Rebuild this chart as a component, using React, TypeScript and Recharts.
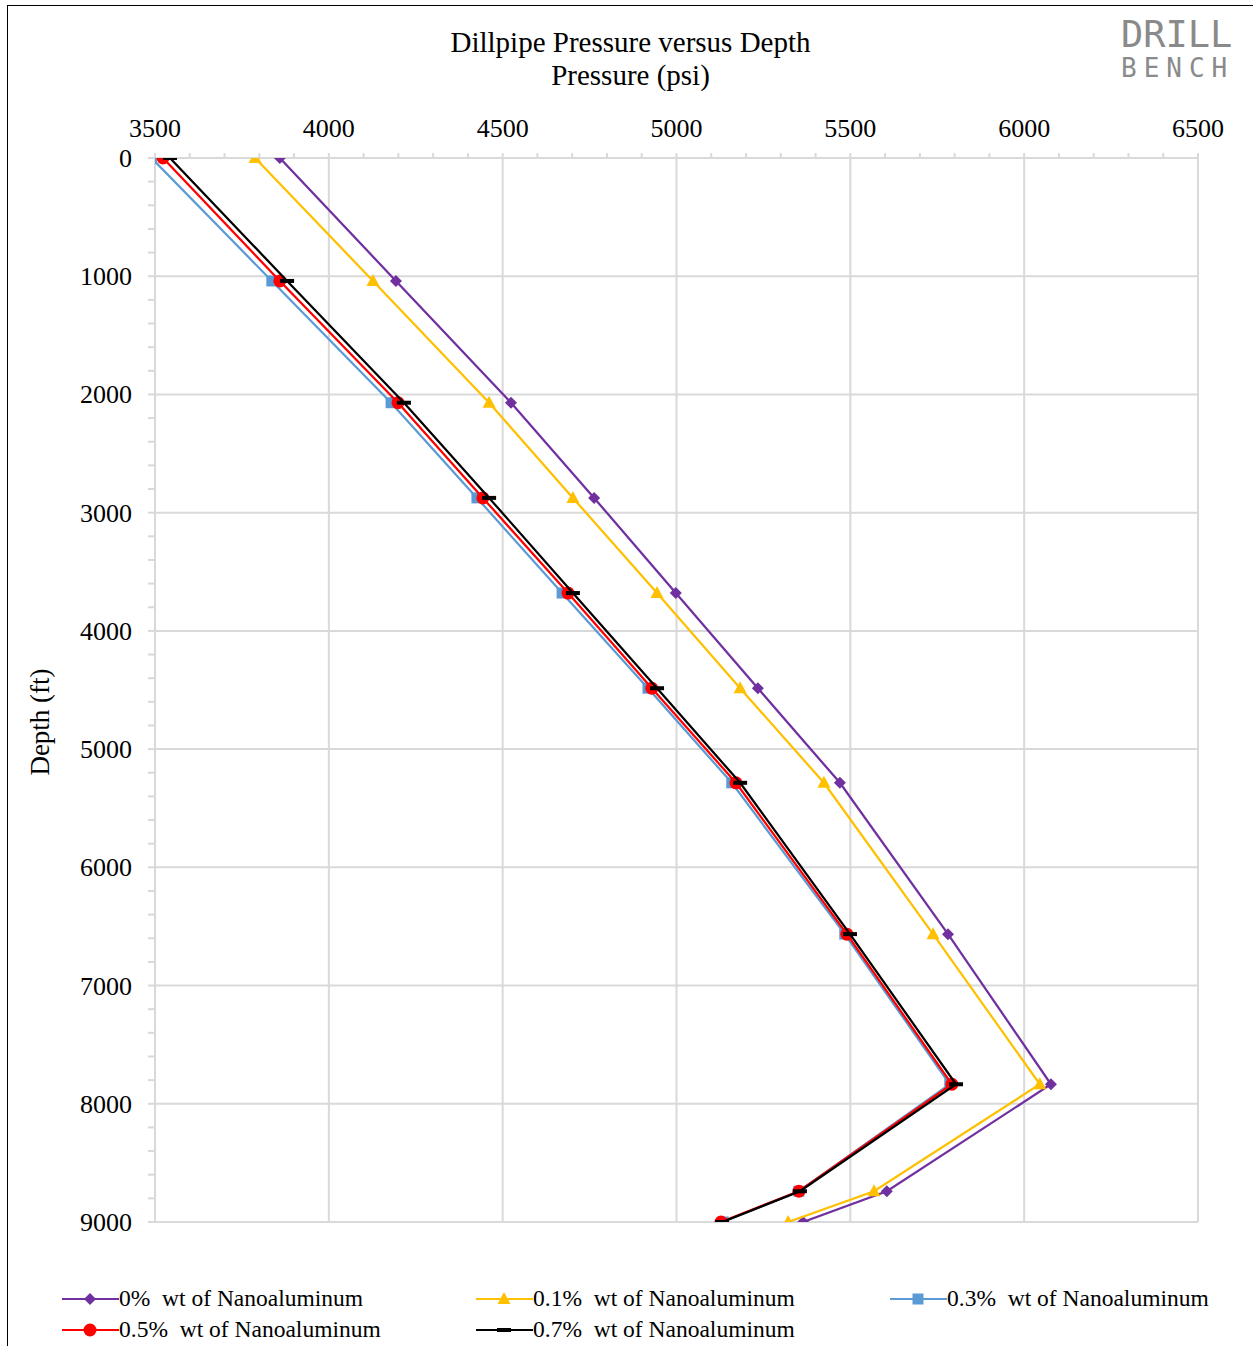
import React from "react";
import {
  CartesianGrid,
  Scatter,
  ScatterChart,
  XAxis,
  YAxis,
} from "recharts";

// depth (ft) for every survey station
const depths = [0, 1040, 2070, 2875, 3680, 4485, 5285, 6565, 7835, 8740, 9000];

// dillpipe pressure (psi) per nanoaluminum loading
const p00 = [3859, 4193, 4524, 4763, 4998, 5234, 5470, 5781, 6077, 5605, 5364];
const p01 = [3788, 4127, 4461, 4702, 4944, 5183, 5424, 5738, 6045, 5568, 5321];
const p03 = [3490, 3836, 4179, 4426, 4671, 4918, 5159, 5484, 5786, 5352, 5134];
const p05 = [3523, 3859, 4199, 4443, 4688, 4929, 5171, 5490, 5792, 5352, 5128];
const p07 = [3543, 3880, 4216, 4461, 4702, 4944, 5183, 5499, 5804, 5355, 5131];

const xTicks = [3500, 4000, 4500, 5000, 5500, 6000, 6500];
const yTicks = [0, 1000, 2000, 3000, 4000, 5000, 6000, 7000, 8000, 9000];

const FONT = "'Liberation Serif', 'Times New Roman', serif";
const GRID = "#d9d9d9";

const minorX: number[] = [];
for (let v = 3500; v <= 6500; v += 100) minorX.push(v);
const minorY: number[] = [];
for (let v = 0; v <= 9000; v += 200) minorY.push(v);

const toPoints = (p: number[]) => p.map((v, i) => ({ p: v, d: depths[i] }));

type Marker = "diamond" | "triangle" | "square" | "circle" | "dash";

function MarkerGlyph({ kind, cx, cy, color }: { kind: Marker; cx: number; cy: number; color: string }) {
  if (cx == null || cy == null || isNaN(cx) || isNaN(cy)) return <g />;
  switch (kind) {
    case "diamond":
      return <polygon points={`${cx},${cy - 6} ${cx + 6},${cy} ${cx},${cy + 6} ${cx - 6},${cy}`} fill={color} />;
    case "triangle":
      return <polygon points={`${cx},${cy - 7} ${cx + 6.5},${cy + 5} ${cx - 6.5},${cy + 5}`} fill={color} />;
    case "square":
      return <rect x={cx - 5.5} y={cy - 5.5} width={11} height={11} fill={color} />;
    case "circle":
      return <circle cx={cx} cy={cy} r={6.5} fill={color} />;
    default:
      return <rect x={cx - 7} y={cy - 2} width={14} height={4} fill={color} />;
  }
}

const series: { name: string; data: number[]; color: string; marker: Marker }[] = [
  { name: "0%  wt of Nanoaluminum", data: p00, color: "#7030a0", marker: "diamond" },
  { name: "0.1%  wt of Nanoaluminum", data: p01, color: "#ffc000", marker: "triangle" },
  { name: "0.3%  wt of Nanoaluminum", data: p03, color: "#5b9bd5", marker: "square" },
  { name: "0.5%  wt of Nanoaluminum", data: p05, color: "#ff0000", marker: "circle" },
  { name: "0.7%  wt of Nanoaluminum", data: p07, color: "#000000", marker: "dash" },
];

const renderXTick = (props: any) => {
  const { x, y, payload } = props;
  if (payload.value % 500 !== 0) return <g />;
  return (
    <text x={x} y={y} textAnchor="middle" style={{ fontFamily: FONT, fontSize: 26 }} fill="#000">
      {payload.value}
    </text>
  );
};

const renderYTick = (props: any) => {
  const { x, y, payload } = props;
  if (payload.value % 1000 !== 0) return <g />;
  return (
    <text x={x} y={y} dy={9} textAnchor="end" style={{ fontFamily: FONT, fontSize: 26 }} fill="#000">
      {payload.value}
    </text>
  );
};

function LegendItem({ s }: { s: (typeof series)[number] }) {
  return (
    <div style={{ display: "flex", alignItems: "center", height: 31 }}>
      <svg width={57} height={20}>
        <line x1={0} y1={10} x2={57} y2={10} stroke={s.color} strokeWidth={2} />
        <MarkerGlyph kind={s.marker} cx={28} cy={10} color={s.color} />
      </svg>
      <span style={{ fontFamily: FONT, fontSize: 23.5, color: "#000", whiteSpace: "pre" }}>{s.name}</span>
    </div>
  );
}

export default function App() {
  return (
    <div style={{ position: "absolute", left: 0, top: 0, width: 1253, height: 1346, overflow: "hidden", background: "#fff" }}>
      <div style={{ position: "absolute", left: 7, top: 5, width: 1300, height: 1400, border: "1px solid #000" }} />
      <div style={{ position: "absolute", left: 0, top: 26, width: 1261, textAlign: "center", fontFamily: FONT, fontSize: 29, lineHeight: "33px" }}>
        Dillpipe Pressure versus Depth
        <br />
        Pressure (psi)
      </div>
      <div style={{ position: "absolute", left: 1121, top: 16, fontFamily: "'DejaVu Sans Mono', monospace", color: "#8a8a8a", fontSize: 37, lineHeight: "37px" }}>
        DRILL
      </div>
      <div style={{ position: "absolute", left: 1121, top: 55, fontFamily: "'DejaVu Sans Mono', monospace", color: "#8a8a8a", fontSize: 26, lineHeight: "26px", letterSpacing: 7 }}>
        BENCH
      </div>
      <div
        style={{
          position: "absolute",
          left: 40,
          top: 722,
          transform: "translate(-50%, -50%) rotate(-90deg)",
          fontFamily: FONT,
          fontSize: 27,
          whiteSpace: "nowrap",
        }}
      >
        Depth (ft)
      </div>
      <div style={{ position: "absolute", left: 0, top: 0 }}>
        <ScatterChart width={1253} height={1245} margin={{ top: 100, right: 55, bottom: 23, left: 0 }}>
          <CartesianGrid stroke={GRID} strokeWidth={2} verticalValues={xTicks} horizontalValues={yTicks} />
          <XAxis
            type="number"
            dataKey="p"
            orientation="top"
            domain={[3500, 6500]}
            ticks={minorX}
            allowDataOverflow
            height={58}
            tickSize={5}
            tickMargin={16}
            stroke={GRID}
            strokeWidth={2}
            tick={renderXTick}
            interval={0}
          />
          <YAxis
            type="number"
            dataKey="d"
            reversed
            domain={[0, 9000]}
            ticks={minorY}
            allowDataOverflow
            width={155}
            tickSize={7}
            tickMargin={16}
            stroke={GRID}
            strokeWidth={2}
            tick={renderYTick}
            interval={0}
          />
          {series.map((s) => (
            <Scatter
              key={s.name}
              name={s.name}
              data={toPoints(s.data)}
              fill={s.color}
              line={{ stroke: s.color, strokeWidth: 2.25 }}
              lineType="joint"
              isAnimationActive={false}
              shape={(props: any) => <MarkerGlyph kind={s.marker} cx={props.cx} cy={props.cy} color={s.color} />}
            />
          ))}
        </ScatterChart>
      </div>
      <div style={{ position: "absolute", left: 62, top: 1283, width: 1200 }}>
        <div style={{ display: "flex" }}>
          <div style={{ width: 414 }}><LegendItem s={series[0]} /></div>
          <div style={{ width: 414 }}><LegendItem s={series[1]} /></div>
          <div><LegendItem s={series[2]} /></div>
        </div>
        <div style={{ display: "flex" }}>
          <div style={{ width: 414 }}><LegendItem s={series[3]} /></div>
          <div><LegendItem s={series[4]} /></div>
        </div>
      </div>
    </div>
  );
}
